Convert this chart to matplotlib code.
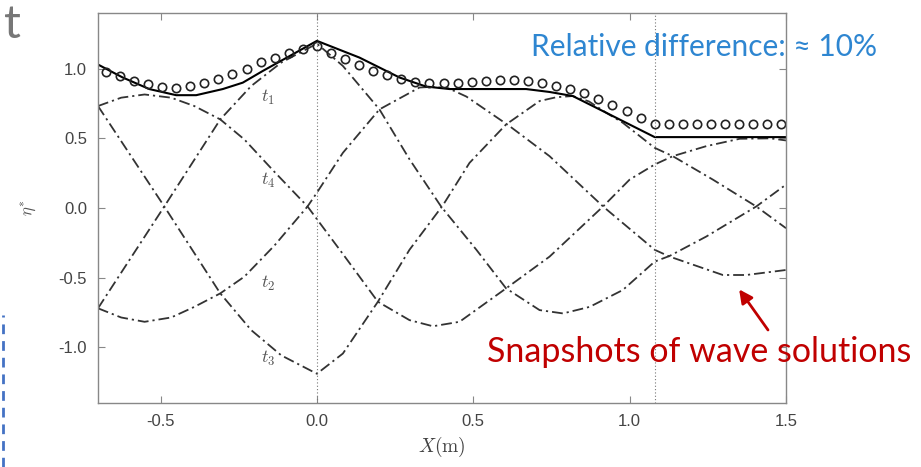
import matplotlib
matplotlib.use("Agg")
import matplotlib.pyplot as plt
from matplotlib.lines import Line2D

plt.rcParams['axes.unicode_minus'] = False
plt.rcParams['mathtext.fontset'] = 'cm'
plt.rcParams['font.family'] = ['Liberation Sans', 'DejaVu Sans']

# ---- data ----
t1_x = [-0.70, -0.488, -0.309, -0.21, -0.114, 0.0, 0.083, 0.20, 0.296, 0.397, 0.51, 0.605, 0.712,
        0.787, 0.872, 0.978, 1.08, 1.128, 1.245, 1.405, 1.50]
t1_y = [-0.72, 0.011, 0.636, 0.876, 1.044, 1.18, 1.02, 0.708, 0.35, 0.011, -0.30, -0.577, -0.733,
        -0.757, -0.71, -0.589, -0.385, -0.344, -0.205, 0.011, 0.168]

t2_x = [-0.70, -0.626, -0.551, -0.466, -0.392, -0.309, -0.232, -0.136, -0.03, 0.0, 0.083, 0.20,
        0.328, 0.37, 0.42, 0.478, 0.616, 0.744, 0.915, 1.08, 1.128, 1.298, 1.373, 1.50]
t2_y = [-0.72, -0.786, -0.817, -0.786, -0.71, -0.613, -0.493, -0.27, 0.011, 0.11, 0.396, 0.708,
        0.865, 0.87, 0.86, 0.80, 0.588, 0.372, 0.011, -0.30, -0.349, -0.481, -0.481, -0.445]

t3_x = [-0.70, -0.488, -0.309, -0.21, -0.114, 0.0, 0.083, 0.195, 0.296, 0.403, 0.488, 0.605, 0.712,
        0.765, 0.818, 0.87, 0.925, 0.978, 1.08, 1.138, 1.266, 1.405, 1.50]
t3_y = [0.732, 0.011, -0.613, -0.877, -1.058, -1.19, -1.045, -0.673, -0.30, 0.02, 0.324, 0.60, 0.768,
        0.795, 0.804, 0.765, 0.684, 0.612, 0.432, 0.372, 0.204, 0.011, -0.145]

t4_x = [-0.70, -0.626, -0.551, -0.466, -0.392, -0.309, -0.232, -0.136, -0.03, 0.0, 0.083, 0.195,
        0.296, 0.371, 0.456, 0.605, 0.744, 0.915, 1.0, 1.08, 1.138, 1.245, 1.352, 1.45, 1.50]
t4_y = [0.732, 0.792, 0.815, 0.792, 0.732, 0.636, 0.492, 0.26, 0.011, -0.08, -0.33, -0.673,
        -0.805, -0.849, -0.817, -0.577, -0.349, 0.011, 0.204, 0.312, 0.372, 0.444, 0.497, 0.50, 0.485]

env_x = [-0.70, -0.621, -0.536, -0.45, -0.386, -0.301, -0.237, -0.173, -0.088, 0.0, 0.136, 0.264,
         0.349, 0.424, 0.563, 0.669, 0.744, 0.818, 0.925, 1.01, 1.08, 1.50]
env_y = [1.03, 0.937, 0.854, 0.81, 0.81, 0.854, 0.90, 0.984, 1.09, 1.20, 1.08, 0.937,
         0.872, 0.854, 0.854, 0.854, 0.833, 0.804, 0.684, 0.588, 0.509, 0.509]

circ_x = [-0.675, -0.63, -0.585, -0.54, -0.495, -0.45, -0.405, -0.36, -0.315, -0.27, -0.225, -0.18,
          -0.135, -0.09, -0.045, 0.0, 0.045, 0.09, 0.135, 0.18, 0.225, 0.27, 0.315, 0.36, 0.405,
          0.45, 0.495, 0.54, 0.585, 0.63, 0.675, 0.72, 0.765, 0.81, 0.855, 0.90, 0.945, 0.99,
          1.035, 1.08, 1.125, 1.17, 1.215, 1.26, 1.305, 1.35, 1.395, 1.44, 1.485]
circ_y = [0.98, 0.945, 0.915, 0.89, 0.866, 0.86, 0.875, 0.90, 0.925, 0.96, 1.0, 1.045,
          1.08, 1.115, 1.14, 1.16, 1.115, 1.068, 1.028, 0.984, 0.953, 0.924, 0.907, 0.90, 0.895,
          0.895, 0.905, 0.912, 0.917, 0.917, 0.912, 0.90, 0.878, 0.857, 0.823, 0.785, 0.737, 0.696,
          0.643, 0.60, 0.60, 0.60, 0.60, 0.60, 0.60, 0.60, 0.60, 0.60, 0.60]

interfaces = [0.0, 1.08]
xticks = [-0.5, 0.0, 0.5, 1.0, 1.5]
yticks = [-1.0, -0.5, 0.0, 0.5, 1.0]
labels = [("$t_1$", -0.18, 0.79), ("$t_4$", -0.18, 0.20), ("$t_2$", -0.18, -0.54), ("$t_3$", -0.18, -1.08)]

# ---- figure ----
fig = plt.figure(figsize=(9.21, 4.67), dpi=100)
ax = fig.add_axes([98/921, 1-403/467, (786-98)/921, (403-13)/467])

dd = (0, (6, 2.2, 1.2, 2.2))
for xs, ys in [(t1_x, t1_y), (t2_x, t2_y), (t3_x, t3_y), (t4_x, t4_y)]:
    ax.plot(xs, ys, color='#333333', lw=1.3, linestyle=dd)
ax.plot(env_x, env_y, color='black', lw=1.5)
ax.plot(circ_x, circ_y, linestyle='none', marker='o', markersize=6.0, markerfacecolor='none',
        markeredgecolor='#222222', markeredgewidth=1.2, clip_on=False)
for xi in interfaces:
    ax.axvline(xi, color='#777777', lw=0.8, linestyle=(0, (1, 2)))

for txt, lx, ly in labels:
    ax.text(lx, ly, txt, color='#555555', fontsize=13, ha='left', va='center')

ax.set_xlim(-0.7, 1.5)
ax.set_ylim(-1.4, 1.4)
ax.set_xticks(xticks)
ax.set_yticks(yticks)
ax.set_xticklabels([f"{v:.1f}" for v in xticks])
ax.set_yticklabels([f"{v:.1f}" for v in yticks])
ax.tick_params(direction='in', length=5, width=0.8, color='#888888', top=True, right=True,
               labelsize=12, labelcolor='#444444', pad=8)
for s in ax.spines.values():
    s.set_color('#888888')
    s.set_linewidth(1.0)
ax.set_xlabel(r"$X(\mathrm{m})$", fontsize=14, color='#444444', labelpad=4)
ax.set_ylabel(r"$\eta^{*}$", fontsize=12, color='#555555', labelpad=14)

# annotations
ax.text(1.79, 1.09, "Relative difference: \u2248 10%", color='#2E86D1', fontsize=21.5,
        family='Lato', ha='right', va='baseline', clip_on=False)
ax.text(1.90, -1.108, "Snapshots of wave solutions", color='#C00000', fontsize=24.5,
        family='Lato', ha='right', va='baseline', clip_on=False)
ax.annotate("", xy=(1.345, -0.568), xytext=(1.4476, -0.892),
            arrowprops=dict(arrowstyle='-|>,head_width=0.4,head_length=0.8', color='#C00000', lw=2),
            annotation_clip=False)

fig.text(0.004, 0.992, "t", color='#777777', fontsize=34, family='Lato', ha='left', va='top')
fig.add_artist(Line2D([3/921, 3/921], [0, 1-315/467], color='#4472C4', lw=2,
                      linestyle=(0, (3.5, 2.5))))

fig.savefig("out.png", dpi=100)
